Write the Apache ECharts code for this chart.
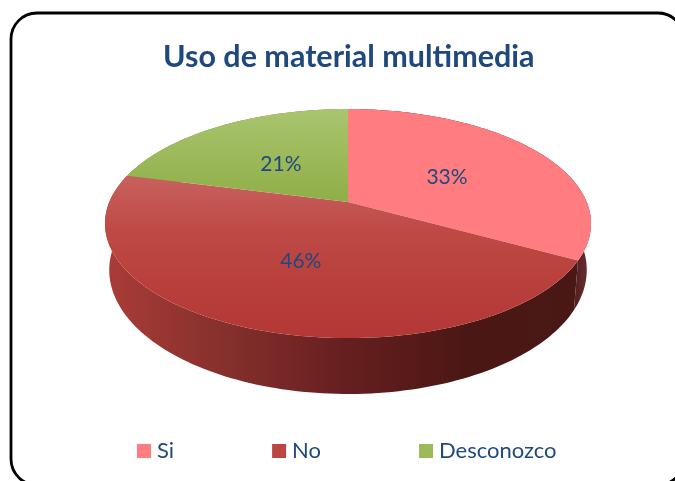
<!DOCTYPE html>
<html>
<head>
<meta charset="utf-8">
<style>html,body{margin:0;padding:0;background:#fff}#c{width:675px;height:481px}</style>
<script src="https://cdn.jsdelivr.net/npm/echarts@6/dist/echarts.min.js"></script>
</head>
<body>
<div id="c"></div>
<script>
const titleText = 'Uso de material multimedia';
const categories = ['Si', 'No', 'Desconozco'];
const seriesValues = [33, 46, 21];
const legendColors = ['#ff7c80', '#bb4541', '#9bbb59'];

const ink = '#1f497d';
const fontFamily = 'Lato, "Open Sans", sans-serif';

// Perspective projection of the pie's disc
const P = {
  cx: 348, persp: 0.188,
  top: { y0: 202, dy: 110.5, dx: 238.7 },
  bottom: { y0: 246.7, dy: 119.6, dx: 234.5 }
};
function project(theta, rho, plane) {
  const x = Math.sin(theta) * rho, z = Math.cos(theta) * rho;
  const w = 1 + P.persp * z;
  return [P.cx + plane.dx * x / w, plane.y0 - plane.dy * z / w];
}
const vgrad = (y1, y2, stops) => ({
  type: 'linear', x: 0, y: y1, x2: 0, y2: y2, global: true,
  colorStops: stops.map((c, i) => ({ offset: i / (stops.length - 1), color: c }))
});
const hgrad = (x1, x2, stops) => ({
  type: 'linear', x: x1, y: 0, x2: x2, y2: 0, global: true,
  colorStops: stops.map((c, i) => ({ offset: i / (stops.length - 1), color: c }))
});
const topFills = [
  '#ff7c80',
  vgrad(175, 338, ['#c8625f', '#be4a46', '#b93f3c', '#b33835']),
  vgrad(109, 202, ['#a9c56f', '#8fae47'])
];
const sideFills = [
  hgrad(572, 592, ['#4f1c1b', '#6e3238']),
  hgrad(105, 585, ['#aa3c38', '#85302c', '#661f1f', '#4b1714', '#491815']),
  '#6e8a3a'
];

const total = seriesValues.reduce((a, b) => a + b, 0);
function startFrac(i) {
  let s = 0;
  for (let k = 0; k < i; k++) s += seriesValues[k];
  return s / total;
}
function makeRender(i) {
  return function (params, api) {
    const v = api.value(0);
    const a0 = startFrac(i) * 2 * Math.PI;
    const a1 = a0 + v / total * 2 * Math.PI;
    const N = 120, rim = [], low = [];
    for (let k = 0; k <= N; k++) {
      const t = a0 + (a1 - a0) * k / N;
      rim.push(project(t, 1, P.top));
      low.push(project(t, 1, P.bottom));
    }
    const apex = project(0, 0, P.top);
    const mid = project((a0 + a1) / 2, 0.5, P.top);
    return {
      type: 'group',
      children: [
        { type: 'polygon', z2: 1, shape: { points: rim.concat(low.slice().reverse()) },
          style: { fill: sideFills[i], stroke: null } },
        { type: 'polygon', z2: 10, shape: { points: [apex].concat(rim) },
          style: { fill: topFills[i], stroke: null } },
        { type: 'text', z2: 20, x: mid[0] + 1, y: mid[1] + 2.5,
          style: { text: v + '%', fill: ink, font: '21px ' + fontFamily, align: 'center', verticalAlign: 'middle' } }
      ]
    };
  };
}

const chart = echarts.init(document.getElementById('c'), null, { renderer: 'canvas' });
chart.setOption({
  animation: false,
  backgroundColor: '#ffffff',
  title: {
    text: titleText, left: 158, top: 37,
    textStyle: { color: ink, fontFamily, fontWeight: 'bold', fontSize: 30.5 }
  },
  legend: {
    data: categories, left: 132, top: 435, icon: 'rect',
    itemWidth: 14, itemHeight: 14, itemGap: 98, selectedMode: false,
    textStyle: { color: ink, fontFamily, fontSize: 22, padding: [0, 0, 0, 1] }
  },
  graphic: [{
    type: 'rect', silent: true, z: -1,
    shape: { x: 11, y: 13, width: 673, height: 472, r: 26 },
    style: { fill: 'none', stroke: '#000', lineWidth: 2.8 }
  }],
  series: categories.map((name, i) => ({
    type: 'custom', name, coordinateSystem: 'none',
    itemStyle: { color: legendColors[i] },
    data: [[seriesValues[i]]],
    renderItem: makeRender(i)
  }))
});
</script>
</body>
</html>
